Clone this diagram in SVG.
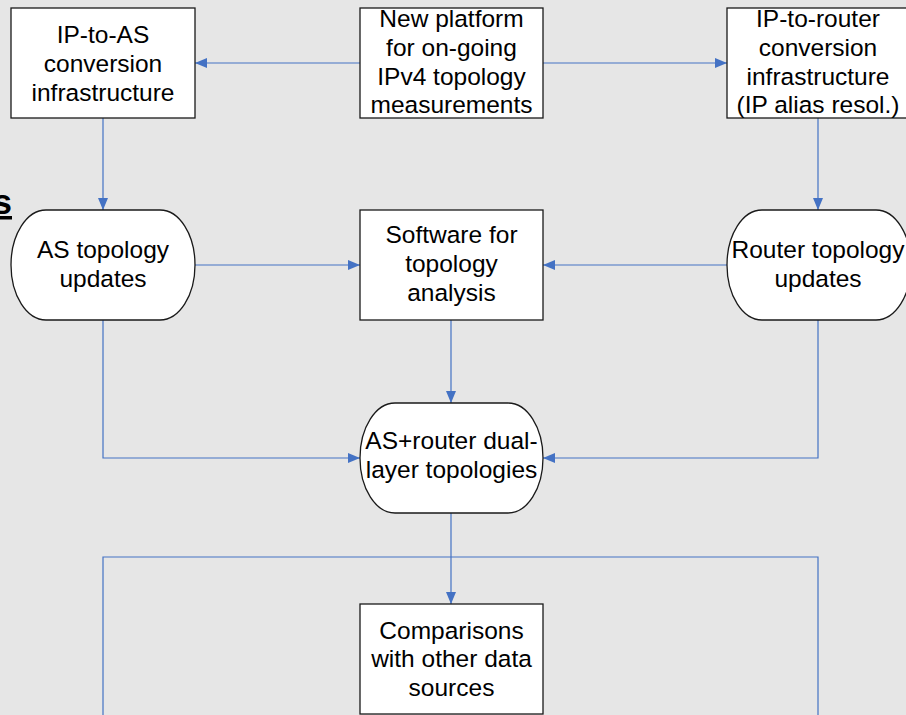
<svg xmlns="http://www.w3.org/2000/svg" width="906" height="715" viewBox="0 0 906 715">
  <defs>
    <marker id="arrow" viewBox="0 0 12 10" refX="12" refY="5" markerWidth="12" markerHeight="10" markerUnits="userSpaceOnUse" orient="auto">
      <path d="M0,0 L12,5 L0,10 Z" fill="#4472c4"/>
    </marker>
    <style>
      .box { fill: #ffffff; stroke: #1a1a1a; stroke-width: 1.3; }
      .lbl { font-family: "Liberation Sans", Arial, sans-serif; font-size: 24.5px; fill: #000000; text-anchor: middle; }
      .conn { fill: none; stroke: #4472c4; stroke-width: 1.2; }
      .arr { marker-end: url(#arrow); }
    </style>
  </defs>

  <rect x="0" y="0" width="906" height="715" fill="#e6e6e6"/>

  <!-- heading fragment at the left edge -->
  <text x="12" y="214" font-family="Liberation Sans, Arial, sans-serif" font-size="35" font-weight="bold" text-anchor="end" text-decoration="underline" fill="#000">s</text>

  <!-- connectors -->
  <g id="connectors">
    <path class="conn arr" d="M360,63 L195,63"/>
    <path class="conn arr" d="M543,63 L727,63"/>
    <path class="conn arr" d="M103,118 L103,210"/>
    <path class="conn arr" d="M818,118 L818,210"/>
    <path class="conn arr" d="M195,265 L360,265"/>
    <path class="conn arr" d="M727,265 L543,265"/>
    <path class="conn arr" d="M451,320 L451,403"/>
    <path class="conn arr" d="M103,320 L103,458 L360,458"/>
    <path class="conn arr" d="M818,320 L818,458 L543,458"/>
    <path class="conn arr" d="M451,513 L451,604"/>
    <path class="conn" d="M103,720 L103,557 L818,557 L818,720"/>
  </g>

  <g id="ip-to-as">
    <rect class="box" x="11" y="8" width="184" height="110"/>
    <text class="lbl" x="103" y="43">IP-to-AS</text>
    <text class="lbl" x="103" y="71.8">conversion</text>
    <text class="lbl" x="103" y="100.6">infrastructure</text>
  </g>

  <g id="new-platform">
    <rect class="box" x="360" y="8" width="183" height="110"/>
    <text class="lbl" x="451.5" y="27">New platform</text>
    <text class="lbl" x="451.5" y="55.8">for on-going</text>
    <text class="lbl" x="451.5" y="84.6">IPv4 topology</text>
    <text class="lbl" x="451.5" y="113.4">measurements</text>
  </g>

  <g id="ip-to-router">
    <rect class="box" x="727" y="8" width="184" height="110"/>
    <text class="lbl" x="818" y="27">IP-to-router</text>
    <text class="lbl" x="818" y="55.8">conversion</text>
    <text class="lbl" x="818" y="84.6">infrastructure</text>
    <text class="lbl" x="818" y="113.4">(IP alias resol.)</text>
  </g>

  <g id="as-topology">
    <rect class="box" x="11" y="210" width="184" height="110" rx="35" ry="55"/>
    <text class="lbl" x="103" y="257.5">AS topology</text>
    <text class="lbl" x="103" y="286.5">updates</text>
  </g>

  <g id="software">
    <rect class="box" x="360" y="210" width="183" height="110"/>
    <text class="lbl" x="451.5" y="243">Software for</text>
    <text class="lbl" x="451.5" y="272">topology</text>
    <text class="lbl" x="451.5" y="301">analysis</text>
  </g>

  <g id="router-topology">
    <rect class="box" x="727" y="210" width="184" height="110" rx="35" ry="55"/>
    <text class="lbl" x="818" y="258">Router topology</text>
    <text class="lbl" x="818" y="287">updates</text>
  </g>

  <g id="dual-layer">
    <rect class="box" x="360" y="403" width="183" height="110" rx="35" ry="55"/>
    <text class="lbl" x="451.5" y="449">AS+router dual-</text>
    <text class="lbl" x="451.5" y="478">layer topologies</text>
  </g>

  <g id="comparisons">
    <rect class="box" x="360" y="604" width="183" height="110"/>
    <text class="lbl" x="451.5" y="638.5">Comparisons</text>
    <text class="lbl" x="451.5" y="667.3">with other data</text>
    <text class="lbl" x="451.5" y="696">sources</text>
  </g>
</svg>
